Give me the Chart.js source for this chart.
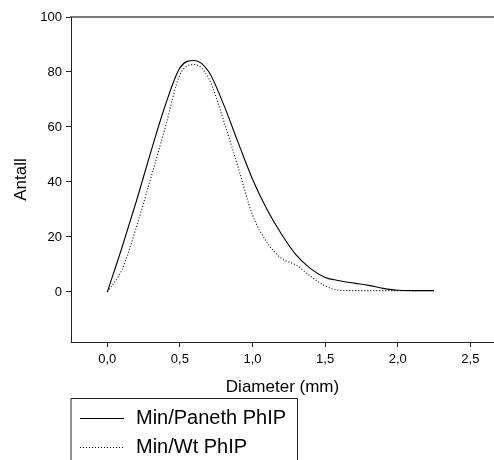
<!DOCTYPE html>
<html>
<head>
<meta charset="utf-8">
<script src="https://cdn.jsdelivr.net/npm/chart.js@4/dist/chart.umd.min.js"></script>
<style>
  html, body { margin: 0; padding: 0; background: #fff; }
  #wrap { width: 494px; height: 460px; position: relative; }
</style>
</head>
<body>
<div id="wrap"><canvas id="c" width="494" height="460"></canvas></div>
<script>
// ---- data ----
const diameters = [0.0, 0.1, 0.2, 0.3, 0.4, 0.5, 0.6, 0.7, 0.8, 0.9, 1.0, 1.1, 1.2, 1.3, 1.4, 1.5, 1.6, 1.7, 1.8, 1.9, 2.0, 2.1, 2.2, 2.25];
const panethValues = [0, 16, 33, 51, 68, 81.5, 84.2, 80, 68.3, 54.5, 41, 30, 21, 13.5, 8.5, 5.3, 4.1, 3.2, 2.4, 1.3, 0.6, 0.5, 0.5, 0.5];
const wtValues = [0, 8, 23.5, 41.5, 60, 79, 82.7, 77.5, 62.5, 45.5, 28, 18, 12.2, 9.8, 5.7, 2.2, 0.6, 0.5, 0.5, 0.5, 0.5, 0.5, 0.5, 0.5];
const seriesNames = ['Min/Paneth PhIP', 'Min/Wt PhIP'];
const xTickValues = [0, 0.5, 1.0, 1.5, 2.0, 2.5];
const xTickLabels = ['0,0', '0,5', '1,0', '1,5', '2,0', '2,5'];
const yTickValues = [0, 20, 40, 60, 80, 100];
const yTickLabels = ['0', '20', '40', '60', '80', '100'];
const xTitle = 'Diameter (mm)';
const yTitle = 'Antall';

const FONT = "'Liberation Sans', Arial, Helvetica, sans-serif";

const toPoints = vals => diameters.map((d, i) => ({ x: d, y: vals[i] }));

const boxLegend = {
  id: 'boxLegend',
  afterDraw(chart) {
    const ctx = chart.ctx;
    const left = 71, top = 398.5, right = 297.5;
    ctx.save();
    ctx.strokeStyle = '#222';
    ctx.lineWidth = 1;
    ctx.setLineDash([]);
    ctx.beginPath();
    ctx.moveTo(left, 470);
    ctx.lineTo(left, top);
    ctx.lineTo(right, top);
    ctx.lineTo(right, 470);
    ctx.stroke();
    const rows = [418, 447];
    chart.data.datasets.forEach((ds, i) => {
      const y = rows[i] + 0.5;
      ctx.strokeStyle = ds.borderColor;
      ctx.lineWidth = ds.borderWidth;
      ctx.setLineDash(ds.borderDash || []);
      ctx.beginPath();
      ctx.moveTo(80, y);
      ctx.lineTo(124, y);
      ctx.stroke();
      ctx.setLineDash([]);
      ctx.fillStyle = '#000';
      ctx.font = '20px ' + FONT;
      ctx.textAlign = 'left';
      ctx.textBaseline = 'middle';
      ctx.fillText(ds.label, 136, rows[i]);
    });
    ctx.restore();
  }
};

new Chart(document.getElementById('c'), {
  type: 'line',
  data: {
    datasets: [
      {
        label: seriesNames[0],
        data: toPoints(panethValues),
        borderColor: '#000',
        borderWidth: 1.1,
        pointRadius: 0,
        fill: false,
        cubicInterpolationMode: 'monotone'
      },
      {
        label: seriesNames[1],
        data: toPoints(wtValues),
        borderColor: '#000',
        borderWidth: 1.1,
        borderDash: [1, 2],
        pointRadius: 0,
        fill: false,
        cubicInterpolationMode: 'monotone'
      }
    ]
  },
  options: {
    responsive: false,
    animation: false,
    events: [],
    layout: { padding: { left: 11, top: 17, right: 0, bottom: 62 } },
    plugins: {
      legend: { display: false },
      tooltip: { enabled: false },
      title: { display: false }
    },
    scales: {
      x: {
        type: 'linear',
        position: 'bottom',
        min: -0.25,
        max: 2.663,
        afterBuildTicks: s => { s.ticks = xTickValues.map(v => ({ value: v })); },
        afterFit: s => { s.height = 56; },
        grid: { display: true, drawOnChartArea: false, drawTicks: true, tickLength: 5, color: '#222', lineWidth: 1 },
        border: { display: true, color: '#222', width: 1 },
        ticks: {
          padding: 5,
          color: '#000',
          font: { family: FONT, size: 13 },
          maxRotation: 0,
          autoSkip: false,
          callback: (v) => { const i = xTickValues.indexOf(v); return i >= 0 ? xTickLabels[i] : ''; }
        },
        title: { display: true, text: xTitle, color: '#000', font: { family: FONT, size: 17 }, padding: { top: 0, bottom: 0 } }
      },
      xTop: {
        type: 'linear',
        position: 'top',
        min: -0.25,
        max: 2.663,
        afterFit: s => { s.height = 0; },
        grid: { display: true, drawOnChartArea: false, drawTicks: false },
        border: { display: true, color: '#7a7a7a', width: 2 },
        ticks: { display: false }
      },
      y: {
        type: 'linear',
        position: 'left',
        min: -18.2,
        max: 100,
        afterBuildTicks: s => { s.ticks = yTickValues.map(v => ({ value: v })); },
        afterFit: s => { s.width = 60; },
        grid: { display: true, drawOnChartArea: false, drawTicks: true, tickLength: 5, color: '#222', lineWidth: 1 },
        border: { display: true, color: '#222', width: 1 },
        ticks: {
          padding: 4,
          color: '#000',
          font: { family: FONT, size: 13 },
          autoSkip: false,
          callback: (v) => { const i = yTickValues.indexOf(v); return i >= 0 ? yTickLabels[i] : ''; }
        },
        title: { display: true, text: yTitle, color: '#000', font: { family: FONT, size: 17 }, padding: { top: 0, bottom: 0 } }
      }
    }
  },
  plugins: [boxLegend]
});
</script>
</body>
</html>
